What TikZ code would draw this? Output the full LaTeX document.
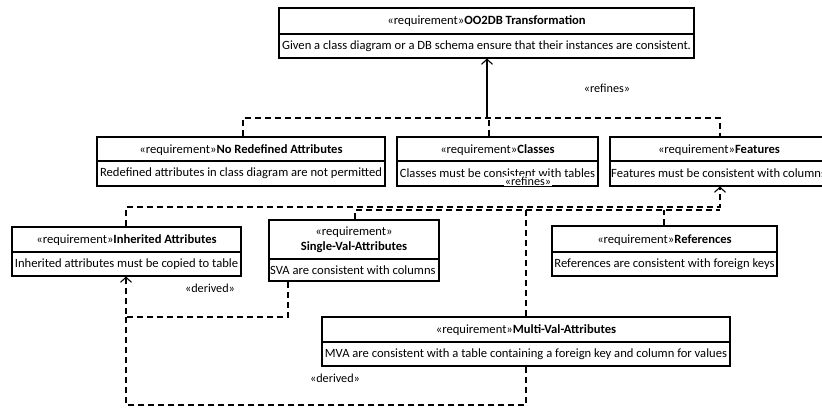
\documentclass[tikz,border=0pt]{standalone}
\usepackage{fontspec}
\setmainfont{Carlito}
\usetikzlibrary{arrows.meta,fit}
\begin{document}
\begin{tikzpicture}[x=1pt,y=-1pt,
  box/.style={draw, line width=1.1pt, inner sep=0pt},
  txt/.style={inner sep=0pt, font=\fontsize{12.6}{14}\selectfont},
  dep/.style={line width=1.2pt, dash pattern=on 6pt off 4pt},
  sol/.style={line width=1.2pt},
  opentip/.style={-{Straight Barb[length=5pt,width=11pt,line width=1.1pt]}},
  lbl/.style={inner sep=1pt, font=\fontsize{12.2}{14}\selectfont}]
\useasboundingbox (0,0) rectangle (822,407);
% ---------- boxes ----------
% top
\node[box, fit={(279,8) (694,58)}] (top) {};
\draw[line width=1.1pt] (279,34) -- (694,34);
\node[txt] (topH) at (486.5,21) {«requirement»\textbf{OO2DB Transformation}};
\node[txt] (topB) at (486.5,46) {Given a class diagram or a DB schema ensure that their instances are consistent.};
% no redefined
\node[box, fit={(97,137) (385,186)}] (nored) {};
\draw[line width=1.1pt] (97,161) -- (385,161);
\node[txt] (noredH) at (241,150) {«requirement»\textbf{No Redefined Attributes}};
\node[txt] (noredB) at (241,173) {Redefined attributes in class diagram are not permitted};
% classes
\node[box, fit={(397,137) (598,186)}] (cls) {};
\draw[line width=1.1pt] (397,161) -- (598,161);
\node[txt] (clsH) at (497.5,150) {«requirement»\textbf{Classes}};
\node[txt] (clsB) at (497.5,173) {Classes must be consistent with tables};
% features
\node[box, fit={(610,137) (832,186)}] (feat) {};
\draw[line width=1.1pt] (610,161) -- (832,161);
\node[txt] (featH) at (719,150) {«requirement»\textbf{Features}};
\node[txt, anchor=west] (featB) at (611,173) {Features must be consistent with columns};
% inherited
\node[box, fit={(12,227) (241,276)}] (inh) {};
\draw[line width=1.1pt] (12,252) -- (241,252);
\node[txt] (inhH) at (126.5,240) {«requirement»\textbf{Inherited Attributes}};
\node[txt] (inhB) at (126.5,264) {Inherited attributes must be copied to table};
% single
\node[box, fit={(269,220) (439,281)}] (sva) {};
\draw[line width=1.1pt] (269,259) -- (439,259);
\node[txt] (svaH1) at (354,232) {«requirement»};
\node[txt] (svaH2) at (354,247) {\textbf{Single-Val-Attributes}};
\node[txt, anchor=west] (svaB) at (270,270) {SVA are consistent with columns};
% references
\node[box, fit={(552,226) (777,276)}] (refs) {};
\draw[line width=1.1pt] (552,252) -- (777,252);
\node[txt] (refsH) at (664.5,240) {«requirement»\textbf{References}};
\node[txt] (refsB) at (664.5,264) {References are consistent with foreign keys};
% mva
\node[box, fit={(322,317) (730,366)}] (mva) {};
\draw[line width=1.1pt] (322,342) -- (730,342);
\node[txt] (mvaH) at (526,330) {«requirement»\textbf{Multi-Val-Attributes}};
\node[txt] (mvaB) at (526,354) {MVA are consistent with a table containing a foreign key and column for values};
% ---------- coordinates ----------
\coordinate (j1) at (487,118);
\coordinate (a1) at (243,118);
\coordinate (a2) at (720,118);
\coordinate (a3) at (489,118);
\coordinate (b1) at (126,207);
\coordinate (b2) at (720,207);
\coordinate (b3) at (355,210);
\coordinate (b4) at (720,210);
\coordinate (b5) at (526,207);
\coordinate (b6) at (664,210);
\coordinate (d1) at (288,317);
\coordinate (d2) at (126,317);
\coordinate (e1) at (526,405);
\coordinate (e2) at (126,405);
% ---------- connectors ----------
\draw[sol, opentip] (j1) -- (top.south -| j1);
\draw[dep] (nored.north -| a1) -- (a1) -- (a2) -- (feat.north -| a2);
\draw[dep] (cls.north -| a3) -- (a3);
\draw[dep, opentip] (inh.north -| b1) -- (b1) -- (b2) -- (feat.south -| b2);
\draw[dep] (sva.north -| b3) -- (b3) -- (b4);
\draw[dep] (mva.north -| b5) -- (b5);
\draw[dep] (refs.north -| b6) -- (b6);
\draw[dep, opentip] (sva.south -| d1) -- (d1) -- (d2) -- (inh.south -| d2);
\draw[dep] (mva.south -| e1) -- (e1) -- (e2) -- (d2);
% ---------- labels ----------
\node[lbl] (l1) at (607,88) {«refines»};
\node[lbl, fill=white, inner sep=0.5pt] (l2) at (528,181) {«refines»};
\node[lbl] (l3) at (210,288) {«derived»};
\node[lbl] (l4) at (335,378) {«derived»};
\end{tikzpicture}
\end{document}
